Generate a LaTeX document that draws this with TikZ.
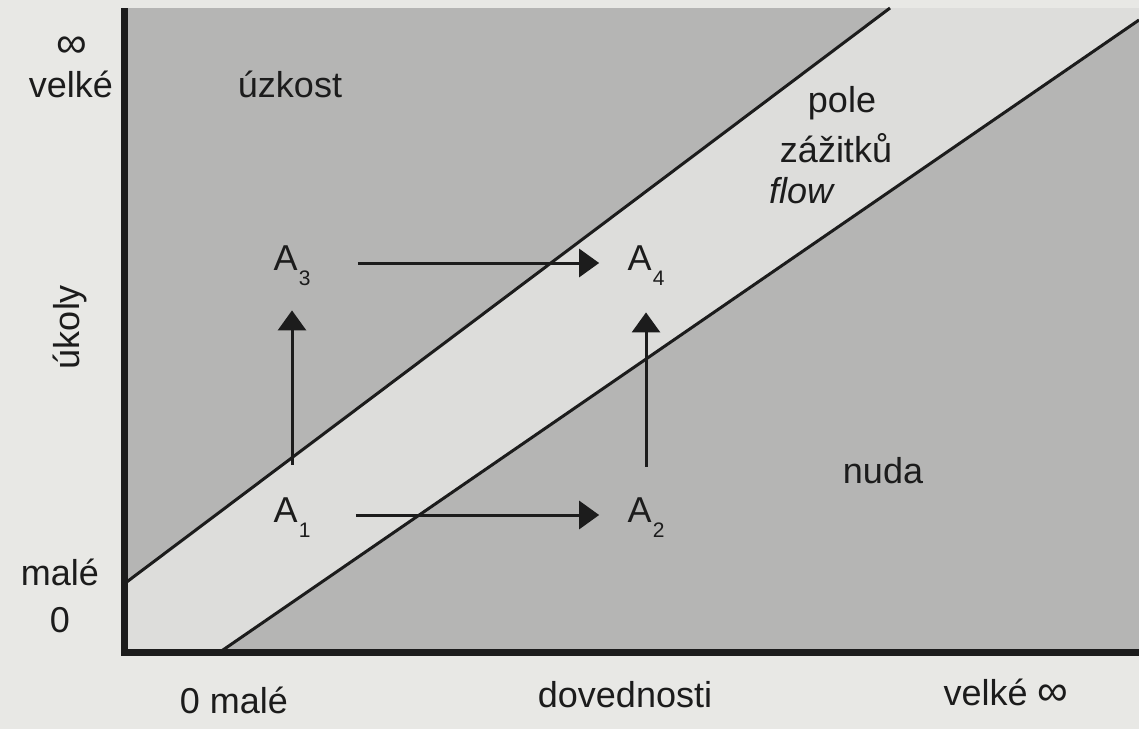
\documentclass[tikz,border=0pt]{standalone}
\usepackage{fontspec}
\setmainfont{Liberation Sans}
\usetikzlibrary{arrows.meta}
\definecolor{pagebg}{RGB}{232,232,229}
\definecolor{darkfield}{RGB}{181,181,180}
\definecolor{bandfield}{RGB}{221,221,219}
\definecolor{ink}{RGB}{28,28,28}
\newcommand\asub[1]{\kern0.6pt\raisebox{-7.5pt}{\fontsize{10.5}{10.5}\selectfont #1}}
\newcommand\infsym{{\fontsize{21.5}{21}\selectfont ∞}}
\begin{document}
\begin{tikzpicture}[x=0.5pt,y=-0.5pt,
  lbl/.style={font=\fontsize{18}{21}\selectfont, text=ink, inner sep=0pt},
  anode/.style={lbl, text height=13pt, text depth=6pt, minimum width=18pt},
  arr/.style={line width=1.5pt, draw=ink, -{Triangle[length=10pt,width=14pt]}},
  bound/.style={line width=1.5pt, draw=ink},
  axisline/.style={line width=3.5pt, draw=ink}]
% background
\fill[pagebg] (0,0) rectangle (1139,729);
\useasboundingbox (0,0) rectangle (1139,729);
% fields
\fill[darkfield] (124,8) rectangle (1139,652);
\fill[bandfield] (124,584) -- (890,8) -- (1139,8) -- (1139,20) -- (220,652) -- (124,652) -- cycle;
% boundaries
\draw[bound] (124,584) -- (890,8);
\draw[bound] (220,652) -- (1139,20);
% axes
\draw[axisline] (124,8) -- (124,652) -- (1139,652);
% axis labels
\node[lbl] (inftop) at (72,47) {\infsym};
\node[lbl, anchor=base] (velketop) at (71,97) {velké};
\node[lbl, anchor=base] (maleleft) at (60,585) {malé};
\node[lbl, anchor=base] (zeroleft) at (60,632) {0};
\node[lbl, rotate=90] (ukoly) at (70,327) {úkoly};
\node[lbl, anchor=base] (malebottom) at (234,713) {0 malé};
\node[lbl, anchor=base] (dovednosti) at (625,707) {dovednosti};
\node[lbl, anchor=base] (velkebottom) at (1006,705) {velké \infsym};
% region labels
\node[lbl, anchor=base] (uzkost) at (290,97) {úzkost};
\node[lbl, anchor=base] (pole) at (842,112) {pole};
\node[lbl, anchor=base] (zazitku) at (836,162) {zážitků};
\node[lbl, anchor=base] (flow) at (801,203) {\itshape flow};
\node[lbl, anchor=base] (nuda) at (883,483) {nuda};
% states
\node[anode] (A1) at (292,515) {A\asub{1}};
\node[anode] (A2) at (646,515) {A\asub{2}};
\node[anode] (A3) at (292,263) {A\asub{3}};
\node[anode] (A4) at (646,263) {A\asub{4}};
% arrows
\draw[arr, shorten <=22.5pt, shorten >=14pt] (A1) -- (A2);
\draw[arr, shorten <=23.5pt, shorten >=14pt] (A3) -- (A4);
\draw[arr, shorten <=15.5pt, shorten >=14pt] (A1) -- (A3);
\draw[arr, shorten <=14.5pt, shorten >=15pt] (A2) -- (A4);
\end{tikzpicture}
\end{document}
